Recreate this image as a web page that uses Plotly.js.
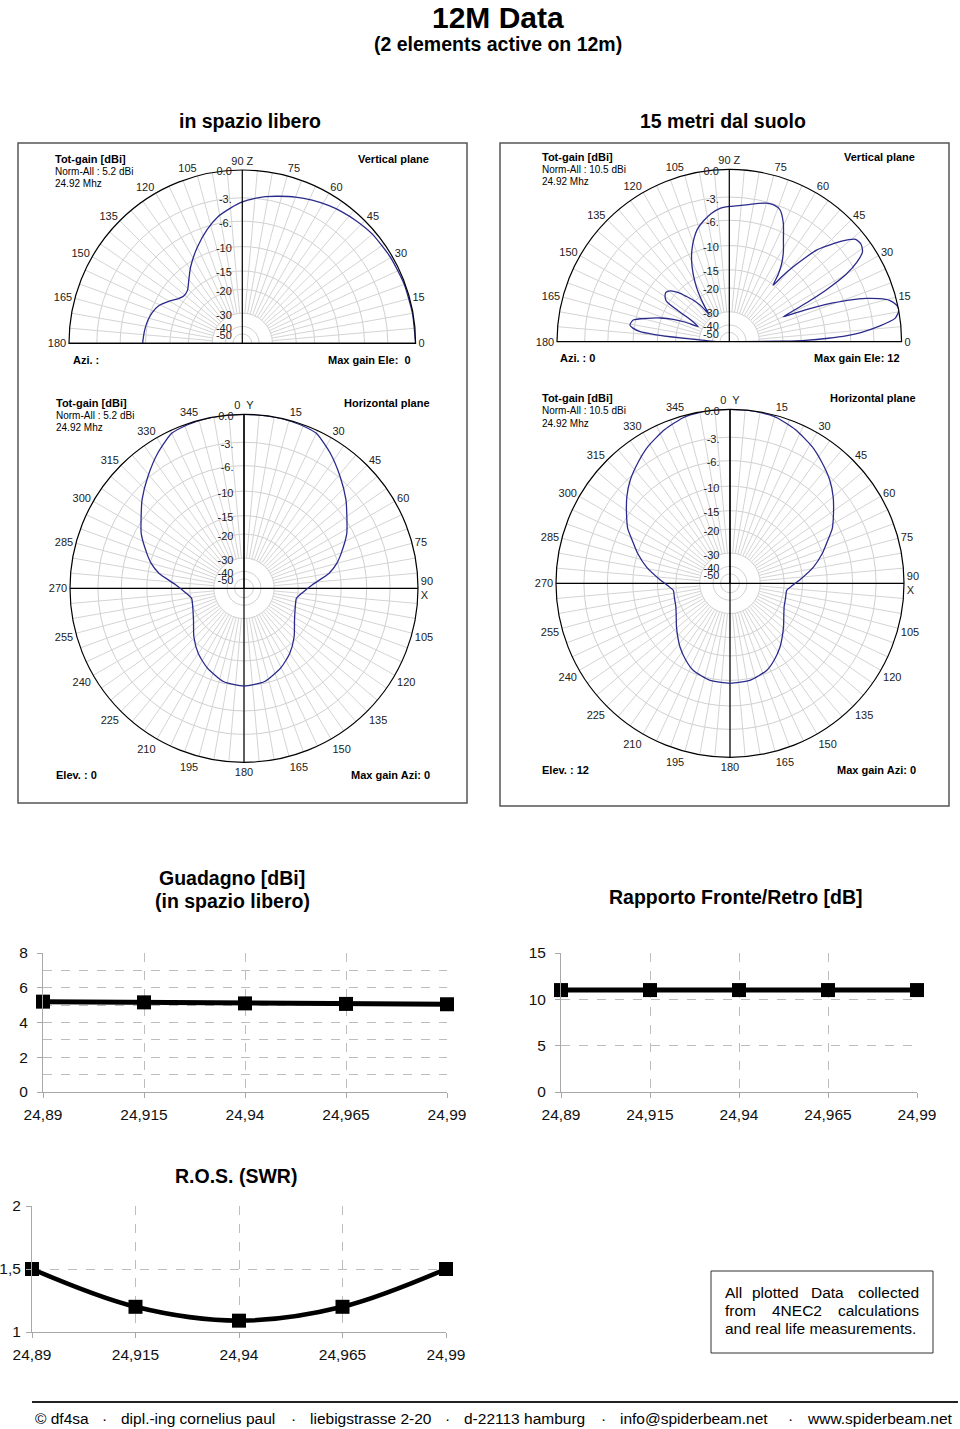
<!DOCTYPE html>
<html><head><meta charset="utf-8">
<script src="https://cdn.plot.ly/plotly-3.0.1.min.js"></script>
<style>html,body{margin:0;padding:0;background:#fff}#chart{width:960px;height:1429px}</style>
</head><body><div id="chart"></div><script>
// ---------- line chart data ----------
const freqs = [24.89, 24.915, 24.94, 24.965, 24.99];
const freqLabels = ['24,89', '24,915', '24,94', '24,965', '24,99'];
const gainFree = [5.2, 5.16, 5.1, 5.07, 5.05];
const frontBack = [11, 11, 11, 11, 11];
const swr = [1.5, 1.2, 1.09, 1.2, 1.5];
const gainTicks = [0, 2, 4, 6, 8];
const fbTicks = [0, 5, 10, 15];
const swrTicks = [1, 1.5, 2];
const swrTickLabels = ['1', '1,5', '2'];

// ---------- polar pattern data (dB) ----------
const vFreeAngle = [0, 10, 20, 30, 40, 47, 53, 58, 64, 70, 76, 81, 85, 90, 95, 101, 107, 115, 124, 130, 136, 141, 145, 150, 156, 161, 166, 172, 178, 180];
const vFreeGain  = [0, -0.05, -0.1, -0.2, -0.35, -0.6, -0.85, -1.1, -1.45, -1.85, -2.3, -2.65, -3.0, -3.5, -4.2, -5.1, -6.4, -8.4, -10.8, -12.6, -14.1, -14.3, -13.7, -12.4, -10.9, -10.3, -9.95, -9.7, -9.55, -9.5];

const vGroundAngle = [0, 0.5, 1, 2, 3, 4, 6, 8, 10, 11.5, 13, 14.5, 16, 17.5, 19, 20.5, 22, 23, 24, 24.8, 26, 27, 28, 30, 32, 34, 36.5, 39, 42, 44, 46.4, 48, 49.5, 51, 52.2, 54, 56, 59, 62, 65.5, 69, 72, 75, 78, 82, 86, 90, 94, 98, 102, 106, 109, 112, 115, 118, 121, 123, 125, 126.7, 127.5, 128.6, 131, 133.4, 136, 139.3, 142, 144, 146, 147.4, 148.5, 149.6, 151, 153, 154.2, 156, 158.2, 161, 164.2, 167.3, 170.5, 172, 173.6, 174.5, 175.2, 176.7, 178, 180];
const vGroundGain  = [-45, -20, -14, -9.5, -6.5, -4.6, -2.2, -0.5, -0.05, 0, -0.25, -0.7, -1.7, -3.1, -5.0, -7.6, -10.8, -13.5, -16.5, -18.3, -14.5, -11, -8, -4.2, -2.3, -1.2, -0.86, -1.0, -2.4, -3.7, -5.3, -7.4, -9.6, -12.2, -15.1, -12.5, -10.5, -8.5, -6.9, -4.8, -3.4, -3.1, -3.15, -3.4, -3.75, -4.0, -4.15, -4.35, -4.9, -5.7, -6.7, -7.9, -9.4, -11.3, -13.8, -17, -20, -24, -28, -25, -22.3, -19.5, -17.5, -15.3, -13.6, -13.1, -13.3, -13.8, -14.5, -17, -21, -24, -26.5, -27.6, -22, -18, -14.8, -12, -9.6, -9.2, -9.8, -11.2, -14, -18.3, -30, -38, -45];

const hFreeAngle = [0, 8, 13, 19, 25, 32.5, 40.7, 49, 55, 62, 70, 75, 80, 87, 94, 101, 110, 122, 134, 145, 155, 167.5, 180, 192.5, 205, 215, 226, 238, 250, 259, 266, 273, 280, 285, 290, 298, 305, 311, 319.3, 327.5, 335, 341, 347, 352, 360];
const hFreeGain  = [0, 0, 0, -0.1, -0.3, -1.4, -2.85, -4.35, -5.6, -6.9, -8.9, -10.2, -12, -16, -18.6, -20.3, -19.9, -18.4, -15.7, -13.4, -11.8, -10.3, -9.9, -10.3, -11.8, -13.4, -15.7, -18.4, -19.9, -20.3, -18.6, -16, -12, -10.2, -8.9, -6.9, -5.6, -4.35, -2.85, -1.4, -0.3, -0.1, 0, 0, 0];

const hGroundAngle = [0, 8, 13, 16, 23, 31, 37, 44, 50, 56, 62, 66, 72, 79, 87, 92, 97, 105, 113, 121, 129, 137, 142, 150, 157, 168, 180, 192, 203, 210, 218, 223, 231, 239, 247, 255, 263, 268, 273, 281, 288, 294, 298, 304, 310, 316, 323, 329, 337, 344, 347, 352, 360];
const hGroundGain  = [0, 0, -0.1, -0.2, -0.7, -1.5, -2.3, -3.3, -4.4, -5.7, -7.0, -8.3, -10, -12.3, -15.6, -17.6, -19.1, -19.0, -18.6, -17.5, -15.9, -14.2, -13.1, -11.6, -10.5, -9.7, -9.5, -9.7, -10.5, -11.6, -13.1, -14.2, -15.9, -17.5, -18.6, -19.0, -19.1, -17.6, -15.6, -12.3, -10, -8.3, -7.0, -5.7, -4.4, -3.3, -2.3, -1.5, -0.7, -0.2, -0.1, 0, 0];

// scale rings and angle labels
const ringDb = [0, -3, -6, -10, -15, -20, -30, -40, -50];
const ringLabels = ['0.0', '-3.', '-6.', '-10', '-15', '-20', '-30', '-40', '-50'];
const vTickAngles = [0, 15, 30, 45, 60, 75, 90, 105, 120, 135, 150, 165, 180];
const vTickLabels = ['0', '15', '30', '45', '60', '75', '90 Z', '105', '120', '135', '150', '165', '180'];
const hTickAngles = [0, 15, 30, 45, 60, 75, 90, 105, 120, 135, 150, 165, 180, 195, 210, 225, 240, 255, 270, 285, 300, 315, 330, 345];
const hTickLabels = ['0  Y', '15', '30', '45', '60', '75', '90<br>X', '105', '120', '135', '150', '165', '180', '195', '210', '225', '240', '255', '270', '285', '300', '315', '330', '345'];

// ---------- helpers ----------
const W = 960, H = 1429;
const px = x => x / W;
const py = y => 1 - y / H;
const FONT = 'Liberation Sans, Arial, sans-serif';
// ARRL log-periodic radial scale (0.89 per 2 dB)
const arrl = db => Math.pow(0.89, -db / 2);
const ringR = ringDb.map(arrl);
const innerR = arrl(-30);

function spokes(a0, a1, sub) {
  const r = [], t = [];
  for (let a = a0; a <= a1; a += 5) { r.push(innerR, 1, null); t.push(a, a, null); }
  return {type: 'scatterpolar', subplot: sub, mode: 'lines', r: r, theta: t,
    line: {color: '#d4d4d4', width: 1}, hoverinfo: 'skip', connectgaps: false};
}
function axisLines(sub, full) {
  const r = full ? [1, 0, 1, null, 1, 0, 1] : [1, 0, 1];
  const t = full ? [0, 0, 180, null, 90, 90, 270] : [0, 0, 180];
  return {type: 'scatterpolar', subplot: sub, mode: 'lines', r: r, theta: t,
    line: {color: '#000', width: 1.2}, hoverinfo: 'skip', connectgaps: false};
}
function pattern(sub, ang, db) {
  return {type: 'scatterpolar', subplot: sub, mode: 'lines', r: db.map(arrl), theta: ang,
    line: {color: '#2b2b8c', width: 1.3, shape: 'spline', smoothing: 0.6}, hoverinfo: 'skip'};
}
function polarLayout(x0, x1, y0, y1, vertical) {
  return {
    domain: {x: [px(x0), px(x1)], y: [py(y1), py(y0)]},
    sector: vertical ? [0, 180] : [0, 360],
    bgcolor: '#fff',
    angularaxis: {
      rotation: vertical ? 0 : 90, direction: vertical ? 'counterclockwise' : 'clockwise',
      tickmode: 'array', tickvals: vertical ? vTickAngles : hTickAngles,
      ticktext: vertical ? vTickLabels : hTickLabels,
      showgrid: false, showline: true, linecolor: '#000', linewidth: 1.2, ticks: '',
      tickfont: {family: FONT, size: 11, color: '#222'}
    },
    radialaxis: {
      range: [0, 1], tickmode: 'array', tickvals: ringR, ticktext: ringLabels,
      angle: 90, side: 'counterclockwise', showline: true, linecolor: '#000', linewidth: 1.2,
      gridcolor: '#d0d0d0', gridwidth: 1, ticks: '',
      tickfont: {family: FONT, size: 11, color: '#222'}
    }
  };
}

// ---------- traces ----------
const traces = [
  spokes(0, 180, 'polar'), axisLines('polar', false), pattern('polar', vFreeAngle, vFreeGain),
  spokes(0, 180, 'polar2'), axisLines('polar2', false), pattern('polar2', vGroundAngle, vGroundGain),
  spokes(0, 355, 'polar3'), axisLines('polar3', true), pattern('polar3', hFreeAngle, hFreeGain),
  spokes(0, 355, 'polar4'), axisLines('polar4', true), pattern('polar4', hGroundAngle, hGroundGain)
];
const lineStyle = w => ({color: '#000', width: w});
const mk = {symbol: 'square', size: 14, color: '#000'};
traces.push({type: 'scatter', x: freqs, y: gainFree, xaxis: 'x', yaxis: 'y', mode: 'lines+markers',
  line: lineStyle(5), marker: mk, cliponaxis: false, hoverinfo: 'skip'});
traces.push({type: 'scatter', x: freqs, y: frontBack, xaxis: 'x2', yaxis: 'y2', mode: 'lines+markers',
  line: lineStyle(5), marker: mk, cliponaxis: false, hoverinfo: 'skip'});
traces.push({type: 'scatter', x: freqs, y: swr, xaxis: 'x3', yaxis: 'y3', mode: 'lines+markers',
  line: {color: '#000', width: 4.5, shape: 'spline', smoothing: 1}, marker: mk, cliponaxis: false, hoverinfo: 'skip'});

// ---------- cartesian axes ----------
function xAx(x0, x1, anchor) {
  return {domain: [px(x0), px(x1)], anchor: anchor, range: [freqs[0], freqs[freqs.length - 1]],
    tickmode: 'array', tickvals: freqs, ticktext: freqLabels,
    showgrid: true, gridcolor: '#bdbdbd', griddash: 'dash', gridwidth: 1,
    showline: true, linecolor: '#a8a8a8', linewidth: 1, zeroline: false,
    ticks: 'outside', ticklen: 5, tickcolor: '#a8a8a8', ticklabelstandoff: 3,
    tickfont: {family: FONT, size: 15.5, color: '#111'}, fixedrange: true};
}
function yAx(y0, y1, anchor, range, tv, tt, minorDt, standoff) {
  const a = {domain: [py(y0), py(y1)], anchor: anchor, range: range,
    tickmode: 'array', tickvals: tv, ticktext: tt,
    showgrid: true, gridcolor: '#bdbdbd', griddash: 'dash', gridwidth: 1,
    showline: true, linecolor: '#a8a8a8', linewidth: 1, zeroline: false,
    ticks: 'outside', ticklen: 5, tickcolor: '#a8a8a8', ticklabelstandoff: standoff,
    tickfont: {family: FONT, size: 15.5, color: '#111'}, fixedrange: true};
  if (minorDt) a.minor = {dtick: minorDt, tick0: 0, showgrid: true, gridcolor: '#bdbdbd', griddash: 'dash', ticks: ''};
  return a;
}

// ---------- annotations ----------
const ann = [];
function txt(x, y, text, size, opts) {
  ann.push(Object.assign({xref: 'paper', yref: 'paper', x: px(x), y: py(y), text: text, showarrow: false,
    xanchor: 'center', yanchor: 'middle', font: {family: FONT, size: size, color: '#000'}}, opts || {}));
}
txt(498, 17, '<b>12M Data</b>', 30);
txt(498, 44, '<b>(2 elements active on 12m)</b>', 19.5);
txt(249.5, 121, '<b>in spazio libero</b>', 19.5);
txt(723, 121, '<b>15 metri dal suolo</b>', 19.5);

function polarTexts(xl, xr, yTop, yBot, norm, plane, botL, botR, xrBot) {
  txt(xl, yTop, '<b>Tot-gain [dBi]</b>', 11, {xanchor: 'left'});
  txt(xl, yTop + 12.5, norm, 10, {xanchor: 'left'});
  txt(xl, yTop + 25, '24.92 Mhz', 10, {xanchor: 'left'});
  txt(xr, yTop, '<b>' + plane + '</b>', 11, {xanchor: 'right'});
  txt(xl + (plane === 'Vertical plane' ? 18 : 0), yBot, '<b>' + botL + '</b>', 11, {xanchor: 'left'});
  txt(xrBot, yBot, '<b>' + botR + '</b>', 11, {xanchor: 'right'});
}
polarTexts(53, 431, 159, 360, 'Norm-All : 5.2 dBi', 'Vertical plane', 'Azi. :', 'Max gain Ele:  0', 413);
polarTexts(540, 917, 157, 358, 'Norm-All : 10.5 dBi', 'Vertical plane', 'Azi. : 0', 'Max gain Ele: 12', 902);
polarTexts(54, 432, 403, 775, 'Norm-All : 5.2 dBi', 'Horizontal plane', 'Elev. : 0', 'Max gain Azi: 0', 432);
polarTexts(540, 918, 398, 770, 'Norm-All : 10.5 dBi', 'Horizontal plane', 'Elev. : 12', 'Max gain Azi: 0', 918);

txt(232, 878, '<b>Guadagno [dBi]</b>', 19.5);
txt(232, 901, '<b>(in spazio libero)</b>', 19.5);
txt(735, 897, '<b>Rapporto Fronte/Retro [dB]</b>', 19.5);
txt(236, 1176, '<b>R.O.S. (SWR)</b>', 19.5);

// info box text (justified by hand)
txt(723, 1292, 'All', 15.5, {xanchor: 'left'});
txt(775, 1292, 'plotted', 15.5);
txt(827.5, 1292, 'Data', 15.5);
txt(921, 1292, 'collected', 15.5, {xanchor: 'right'});
txt(723, 1310, 'from', 15.5, {xanchor: 'left'});
txt(796.5, 1310, '4NEC2', 15.5);
txt(921, 1310, 'calculations', 15.5, {xanchor: 'right'});
txt(723, 1328, 'and real life measurements.', 15.5, {xanchor: 'left'});

// footer
const footerItems = [['© df4sa', 33], ['dipl.-ing cornelius paul', 119], ['liebigstrasse 2-20', 308], ['d-22113 hamburg', 462], ['info@spiderbeam.net', 618], ['www.spiderbeam.net', 805]];
footerItems.forEach(f => txt(f[1], 1418, f[0], 15.5, {xanchor: 'left'}));
[104, 293, 447, 603, 790].forEach(x => txt(x, 1418, '·', 15.5));

// ---------- shapes ----------
const shapes = [
  {type: 'rect', xref: 'paper', yref: 'paper', x0: px(18), x1: px(467), y0: py(803), y1: py(143), line: {color: '#555', width: 1.5}},
  {type: 'rect', xref: 'paper', yref: 'paper', x0: px(500), x1: px(949), y0: py(806), y1: py(143), line: {color: '#555', width: 1.5}},
  {type: 'rect', xref: 'paper', yref: 'paper', x0: px(711), x1: px(933), y0: py(1353), y1: py(1271), line: {color: '#333', width: 1}},
  {type: 'line', xref: 'paper', yref: 'paper', x0: px(32), x1: px(958), y0: py(1402), y1: py(1402), line: {color: '#222', width: 2}}
];

const layout = {
  width: W, height: H, margin: {l: 0, r: 0, t: 0, b: 0}, showlegend: false,
  paper_bgcolor: '#fff', plot_bgcolor: '#fff', separators: ',.',
  font: {family: FONT, color: '#000'},
  polar: polarLayout(69, 415.6, 170, 343.3, true),
  polar2: polarLayout(557, 901.6, 169.4, 341.7, true),
  polar3: polarLayout(70, 418, 414.3, 762.3, false),
  polar4: polarLayout(556, 904, 409.3, 757.3, false),
  xaxis: xAx(43, 447, 'y'),
  yaxis: yAx(1092, 953, 'x', [0, 8], gainTicks, gainTicks.map(String), 1, 6),
  xaxis2: xAx(561, 917, 'y2'),
  yaxis2: yAx(1092, 953, 'x2', [0, 15], fbTicks, fbTicks.map(String), null, 6),
  xaxis3: xAx(32, 446, 'y3'),
  yaxis3: yAx(1332, 1206, 'x3', [1, 2], swrTicks, swrTickLabels, null, 2),
  annotations: ann, shapes: shapes
};
Plotly.newPlot('chart', traces, layout, {displayModeBar: false, staticPlot: true});
</script></body></html>
